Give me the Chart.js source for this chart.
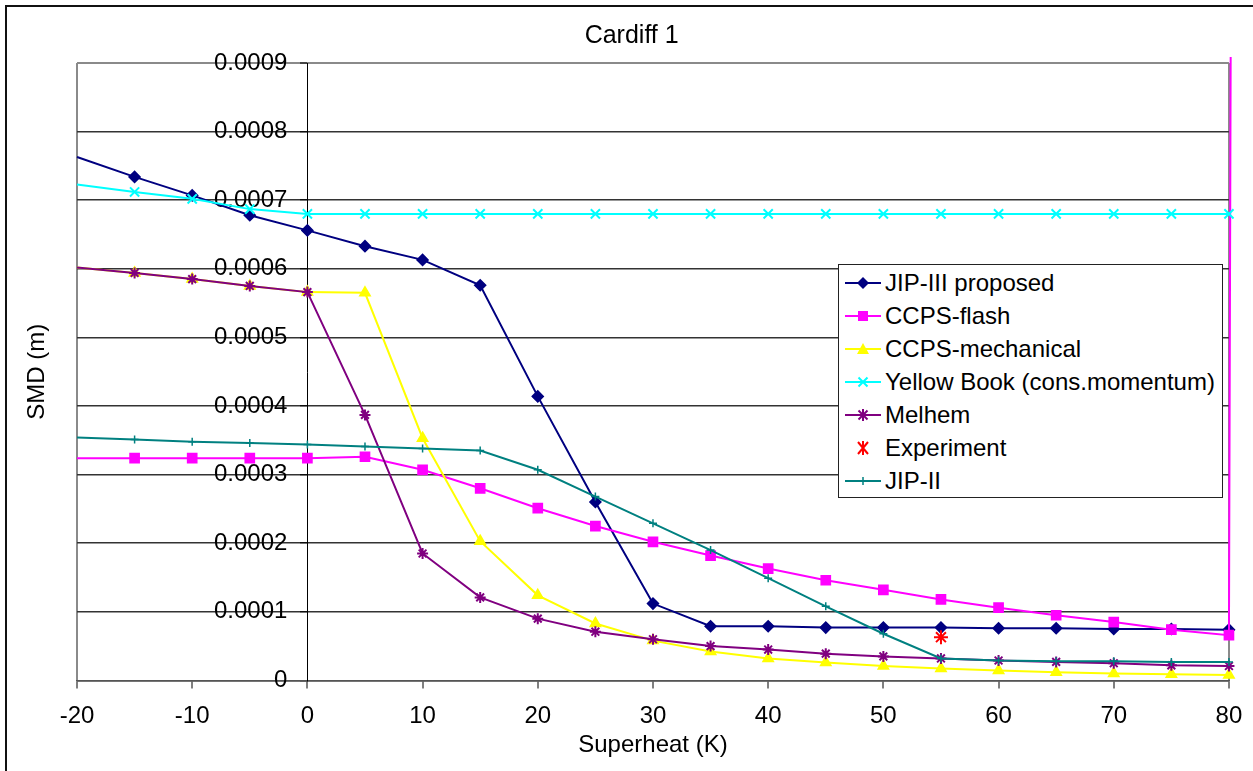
<!DOCTYPE html>
<html>
<head>
<meta charset="utf-8">
<script src="https://cdn.jsdelivr.net/npm/chart.js@4/dist/chart.umd.min.js"></script>
<style>
  html, body { margin: 0; padding: 0; background: #fff; overflow: hidden; }
  body { width: 1253px; height: 771px; position: relative; font-family: "Liberation Sans", Arial, sans-serif; }
  #chart { position: absolute; left: 0; top: 0; }
  #frame { position: absolute; left: 5px; top: 5px; width: 1300px; height: 800px;
           border-left: 2px solid #111; border-top: 2px solid #111; pointer-events: none; }
  #legend { position: absolute; left: 838px; top: 264px; width: 383px; height: 231px;
            border: 1px solid #222; background: #fff; padding-top: 1px; }
  .item { height: 33px; display: flex; align-items: center; padding-left: 6px;
          font-size: 24px; color: #000; white-space: nowrap; }
  .item svg { width: 36px; height: 20px; margin-right: 4px; flex: none; }
</style>
</head>
<body>
<canvas id="chart" width="1253" height="771"></canvas>
<div id="frame"></div>
<div id="legend"></div>
<script>
// superheat (K)
const superheat = [-20, -15, -10, -5, 0, 5, 10, 15, 20, 25, 30, 35, 40, 45, 50, 55, 60, 65, 70, 75, 80];

// SMD (m) per series
const jip3 = [0.000763, 0.000734, 0.000707, 0.000678, 0.000656, 0.000633, 0.000613, 0.000576, 0.000414, 0.00026, 0.000112, 0.000079, 0.000079, 0.000077, 0.000077, 0.000077, 0.000076, 0.000076, 0.000075, 0.000075, 0.000074];
const ccpsFlash = [0.000324, 0.000324, 0.000324, 0.000324, 0.000324, 0.000326, 0.000307, 0.00028, 0.000251, 0.000225, 0.000202, 0.000182, 0.000163, 0.000146, 0.000132, 0.000118, 0.000106, 0.000095, 0.000085, 0.000074, 0.000066];
const ccpsMech = [0.000602, 0.000594, 0.000585, 0.000575, 0.000566, 0.000565, 0.000353, 0.000203, 0.000124, 0.000083, 0.000058, 0.000042, 0.000032, 0.000026, 0.000021, 0.0000175, 0.0000146, 0.000012, 0.00001, 0.000009, 0.000008];
const yellowBook = [0.000723, 0.000712, 0.000702, 0.000687, 0.00068, 0.00068, 0.00068, 0.00068, 0.00068, 0.00068, 0.00068, 0.00068, 0.00068, 0.00068, 0.00068, 0.00068, 0.00068, 0.00068, 0.00068, 0.00068, 0.00068];
const melhem = [0.000602, 0.000594, 0.000585, 0.000575, 0.000566, 0.000387, 0.000185, 0.000121, 0.00009, 0.000071, 0.00006, 0.00005, 0.000045, 0.000039, 0.000035, 0.000032, 0.000029, 0.000027, 0.000025, 0.000022, 0.000021];
const jip2 = [0.000354, 0.000351, 0.000348, 0.000346, 0.000344, 0.000341, 0.000338, 0.000335, 0.000307, 0.000268, 0.000229, 0.00019, 0.000149, 0.000108, 0.000068, 0.000032, 0.000029, 0.000028, 0.000028, 0.000027, 0.000027];

// CCPS-flash last point runs off the top of the plot
const flashSpikeX = 80.2;
const flashSpikeY = 0.0012;

const experimentX = [55];
const experiment = [0.000063];

const seriesNames = ['JIP-III proposed', 'CCPS-flash', 'CCPS-mechanical', 'Yellow Book (cons.momentum)', 'Melhem', 'Experiment', 'JIP-II'];
const seriesColors = ['#000080', '#ff00ff', '#ffff00', '#00ffff', '#800080', '#ff0000', '#008080'];

const xMin = -20, xMax = 80, xTickStep = 10;
const yMax = 0.0009, yTickStep = 0.0001;

function pts(xs, ys) {
  return xs.map((x, i) => ({ x: x, y: ys[i] }));
}
// no marker on the left edge or on the off-scale spike
const edgeRadius = r => ctx => (ctx.raw && (ctx.raw.x <= xMin || ctx.raw.x > xMax)) ? 0 : r;

function lineSet(i, data, style, radius, extra) {
  return Object.assign({
    label: seriesNames[i],
    data: data,
    borderColor: seriesColors[i],
    backgroundColor: seriesColors[i],
    pointBorderColor: seriesColors[i],
    pointBackgroundColor: seriesColors[i],
    borderWidth: 2,
    pointStyle: style,
    pointRadius: edgeRadius(radius),
    pointBorderWidth: 1.5,
    tension: 0,
    order: seriesNames.length - i
  }, extra || {});
}

const datasets = [
  lineSet(0, pts(superheat, jip3), 'rectRot', 5.5),
  lineSet(1, pts(superheat, ccpsFlash).concat([{ x: flashSpikeX, y: flashSpikeY }]), 'rect', 6.5, { clip: 6 }),
  lineSet(2, pts(superheat, ccpsMech), 'triangle', 6),
  lineSet(3, pts(superheat, yellowBook), 'crossRot', 6.5, { pointBorderWidth: 2 }),
  lineSet(4, pts(superheat, melhem), 'star', 5.5, { pointBorderWidth: 2 }),
  lineSet(5, pts(experimentX, experiment), 'star', 7, { showLine: false, pointBorderWidth: 2 }),
  lineSet(6, pts(superheat, jip2), 'cross', 4, { pointBorderWidth: 1.5 })
];

const font = "'Liberation Sans', Arial, sans-serif";
const isTop = ctx => ctx.tick && Math.abs(ctx.tick.value - yMax) < 1e-9;

new Chart(document.getElementById('chart').getContext('2d'), {
  type: 'line',
  data: { datasets: datasets },
  options: {
    responsive: false,
    animation: false,
    events: [],
    layout: { padding: { left: 26, right: 15.7, top: 0, bottom: 8 } },
    plugins: {
      legend: { display: false },
      tooltip: { enabled: false },
      title: {
        display: true,
        text: 'Cardiff 1',
        color: '#000',
        font: { family: font, size: 25, weight: 'normal' },
        padding: { top: 21, bottom: 12 }
      }
    },
    scales: {
      x: {
        type: 'linear',
        // range set here so the spike past 80 is still drawn
        afterDataLimits: s => { s.min = xMin; s.max = xMax; },
        ticks: { stepSize: xTickStep, color: '#000', font: { family: font, size: 24 }, padding: 10.7, maxRotation: 0 },
        grid: {
          drawOnChartArea: true,
          color: ctx => (ctx.tick && (ctx.tick.value === xMin || ctx.tick.value === xMax)) ? '#8a8a8a' : 'rgba(0,0,0,0)',
          lineWidth: 2,
          tickColor: '#000',
          tickWidth: 1,
          tickLength: 11.3,
          tickBorderDash: [7, 30]
        },
        border: { display: true, color: '#555', width: 1.5 },
        title: {
          display: true,
          text: 'Superheat (K)',
          color: '#000',
          font: { family: font, size: 24 },
          padding: { top: -10.7, bottom: 3 }
        }
      },
      y: {
        type: 'linear',
        position: { x: 0 },
        min: 0,
        max: yMax,
        ticks: {
          stepSize: yTickStep,
          color: '#000',
          font: { family: font, size: 24 },
          callback: v => (v === 0 ? '0' : v.toFixed(4)) + '   '
        },
        grid: {
          color: ctx => isTop(ctx) ? '#8a8a8a' : '#333',
          lineWidth: ctx => isTop(ctx) ? 2 : 1.5,
          tickColor: '#000',
          tickWidth: 1,
          tickLength: 7
        },
        border: { display: true, color: '#000', width: 1 }
      },
      yTitle: {
        type: 'linear',
        position: 'left',
        min: 0,
        max: 1,
        ticks: { display: false },
        grid: { display: false, drawTicks: false },
        border: { display: false },
        title: {
          display: true,
          text: 'SMD (m)',
          color: '#000',
          font: { family: font, size: 24 },
          padding: { top: -3.4, bottom: 25.6 }
        }
      }
    }
  }
});

// legend built from the series names and colours
const markers = [
  c => `<polygon points="18,4 24,10 18,16 12,10" fill="${c}"/>`,
  c => `<rect x="13" y="5" width="10" height="10" fill="${c}"/>`,
  c => `<polygon points="18,4 24,15 12,15" fill="${c}"/>`,
  c => `<path d="M13.5,5.5 L22.5,14.5 M22.5,5.5 L13.5,14.5" stroke="${c}" stroke-width="2"/>`,
  c => `<path d="M13.5,5.5 L22.5,14.5 M22.5,5.5 L13.5,14.5 M18,4 L18,16" stroke="${c}" stroke-width="2"/>`,
  c => `<path d="M13,4 L23,16 M23,4 L13,16 M18,3 L18,17" stroke="${c}" stroke-width="2"/>`,
  c => `<path d="M14,10 L22,10 M18,6 L18,14" stroke="${c}" stroke-width="1.5"/>`
];
const legendEl = document.getElementById('legend');
seriesNames.forEach((name, i) => {
  const c = seriesColors[i];
  const line = datasets[i].showLine === false ? '' : `<line x1="0" y1="10" x2="36" y2="10" stroke="${c}" stroke-width="2"/>`;
  const row = document.createElement('div');
  row.className = 'item';
  row.innerHTML = `<svg viewBox="0 0 36 20">${line}${markers[i](c)}</svg><span></span>`;
  row.querySelector('span').textContent = name;
  legendEl.appendChild(row);
});
</script>
</body>
</html>
